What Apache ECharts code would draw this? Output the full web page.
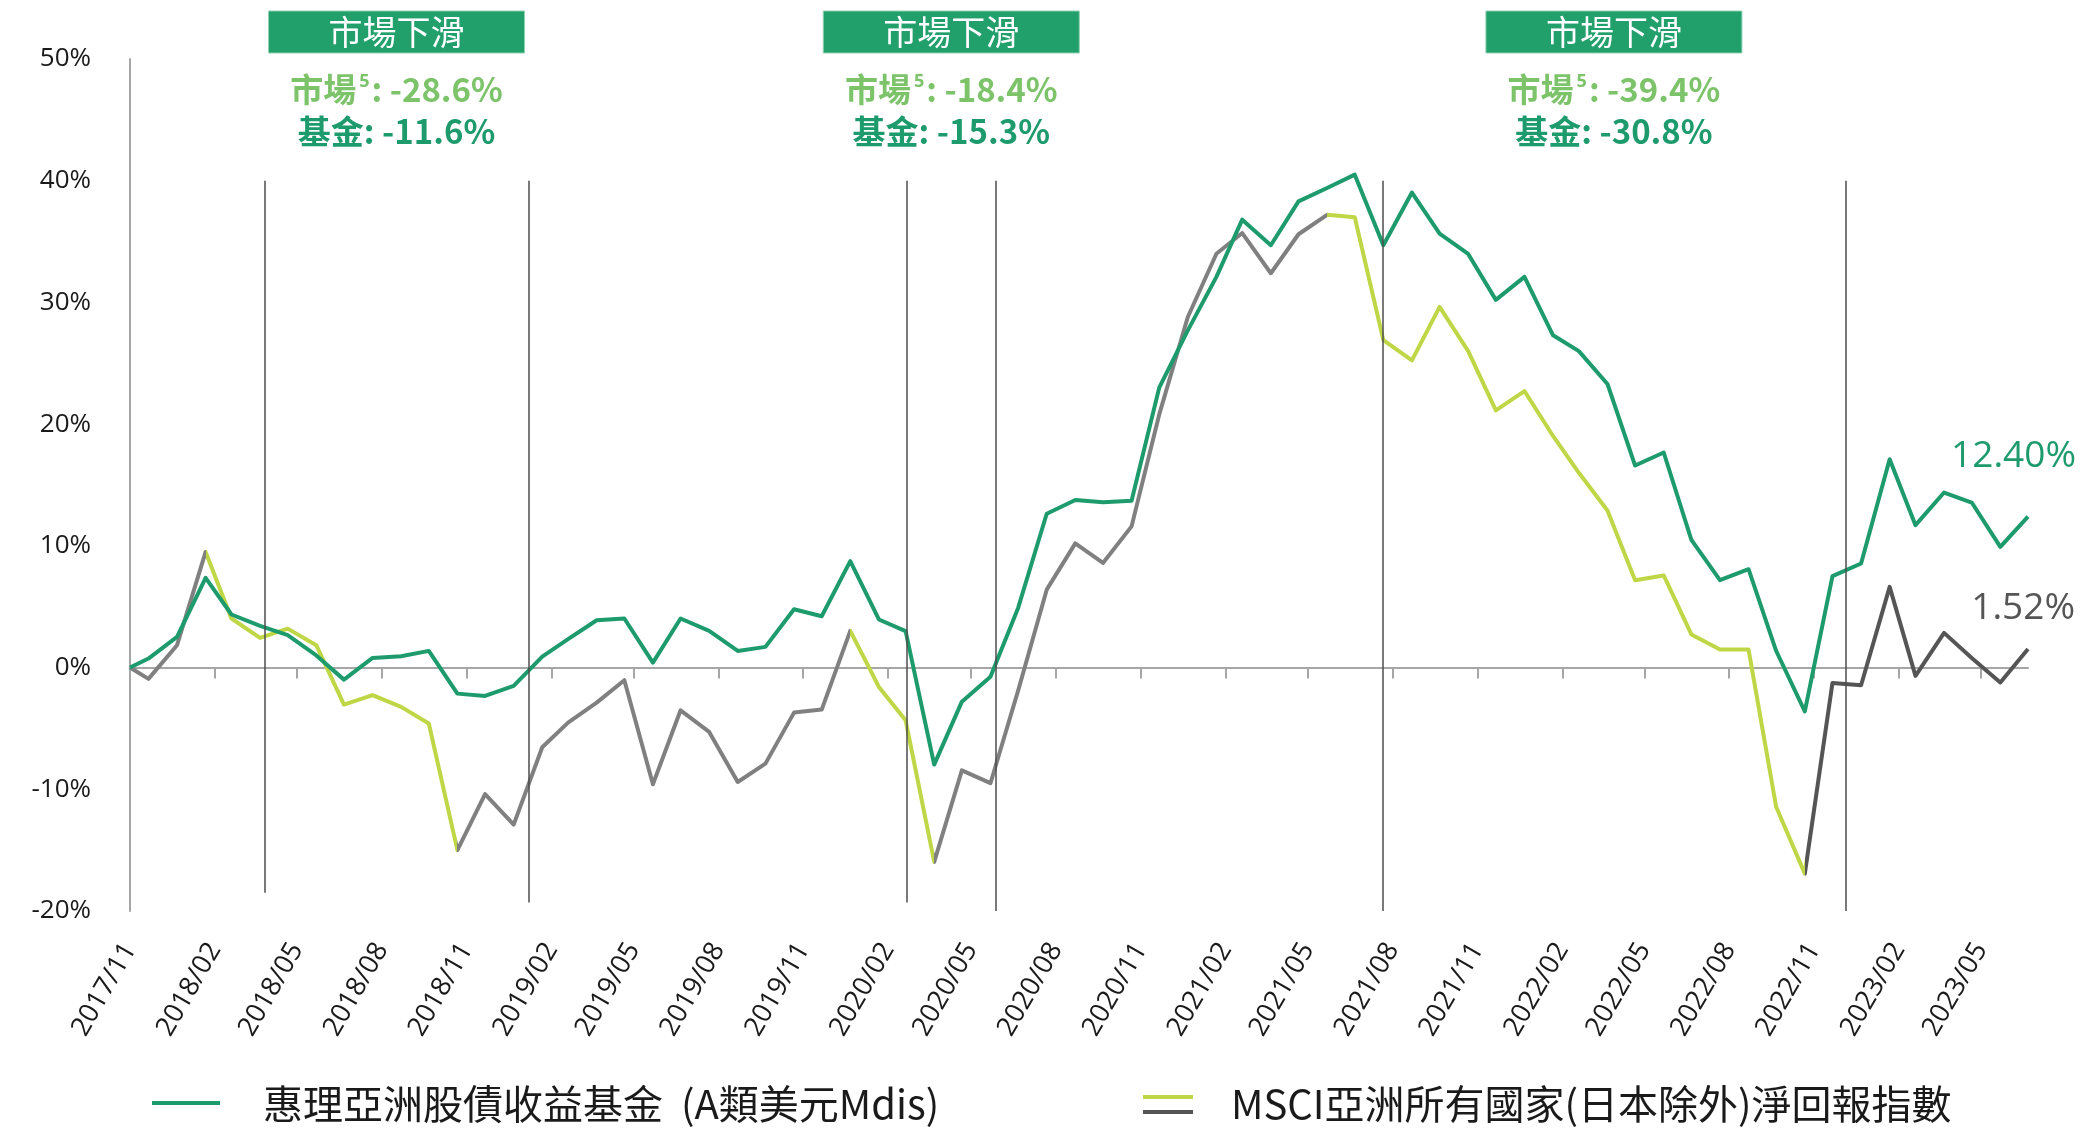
<!DOCTYPE html>
<html>
<head>
<meta charset="utf-8">
<script src="https://cdn.jsdelivr.net/npm/echarts@6/dist/echarts.min.js"></script>
<style>
html,body{margin:0;padding:0;background:#ffffff;}
#chart{width:2091px;height:1130px;}
</style>
</head>
<body>
<div id="chart"></div>
<script>
// ---------------- DATA ----------------
const dates = [
  '2017-11-10','2017-11-30','2017-12-31',
  '2018-01-31','2018-02-28','2018-03-31','2018-04-30','2018-05-31','2018-06-30',
  '2018-07-31','2018-08-31','2018-09-30','2018-10-31','2018-11-30','2018-12-31',
  '2019-01-31','2019-02-28','2019-03-31','2019-04-30','2019-05-31','2019-06-30',
  '2019-07-31','2019-08-31','2019-09-30','2019-10-31','2019-11-30','2019-12-31',
  '2020-01-31','2020-02-29','2020-03-31','2020-04-30','2020-05-31','2020-06-30',
  '2020-07-31','2020-08-31','2020-09-30','2020-10-31','2020-11-30','2020-12-31',
  '2021-01-31','2021-02-28','2021-03-31','2021-04-30','2021-05-31','2021-06-30',
  '2021-07-31','2021-08-31','2021-09-30','2021-10-31','2021-11-30','2021-12-31',
  '2022-01-31','2022-02-28','2022-03-31','2022-04-30','2022-05-31','2022-06-30',
  '2022-07-31','2022-08-31','2022-09-30','2022-10-31','2022-11-30','2022-12-31',
  '2023-01-31','2023-02-28','2023-03-31','2023-04-30','2023-05-31','2023-06-30'
];

const fundValues = [
  0, 0.74, 2.52,
  7.37, 4.36, 3.42, 2.66, 1.0, -0.99,
  0.79, 0.93, 1.37, -2.14, -2.33, -1.51,
  0.9, 2.33, 3.89, 4.03, 0.41, 4.03,
  3.01, 1.37, 1.70, 4.79, 4.22, 8.74,
  3.95, 2.99, -7.97, -2.8, -0.75, 4.9,
  12.64, 13.77, 13.58, 13.7, 23.0, 27.7,
  32.1, 36.8, 34.7, 38.3, 39.4, 40.5,
  34.7, 39.03, 35.65, 33.98, 30.21, 32.1,
  27.3, 26.0, 23.3, 16.6, 17.67, 10.49,
  7.18, 8.08, 1.36, -3.6, 7.51, 8.55,
  17.12, 11.7, 14.38, 13.56, 9.92, 12.40
];

const msciValues = [
  0, -0.93, 1.84,
  9.5, 4.03, 2.44, 3.2, 1.84, -3.04,
  -2.27, -3.23, -4.6, -15.0, -10.4, -12.9,
  -6.55, -4.52, -2.88, -1.04, -9.59, -3.51,
  -5.29, -9.4, -7.89, -3.7, -3.45, 3.01,
  -1.59, -4.33, -15.97, -8.45, -9.5, -1.9,
  6.4, 10.2, 8.6, 11.6, 20.8, 28.8,
  34.0, 35.7, 32.4, 35.6, 37.2, 37.0,
  26.9, 25.24, 29.63, 26.0, 21.13, 22.72,
  19.03, 16.0, 12.9, 7.18, 7.57, 2.72,
  1.48, 1.48, -11.46, -16.93, -1.26, -1.45,
  6.63, -0.68, 2.85, 0.79, -1.23, 1.52
];

const tickLabels = [
  '2017/11','2018/02','2018/05','2018/08','2018/11','2019/02','2019/05','2019/08',
  '2019/11','2020/02','2020/05','2020/08','2020/11','2021/02','2021/05','2021/08',
  '2021/11','2022/02','2022/05','2022/08','2022/11','2023/02','2023/05'
];

// market peak-to-trough periods (indices into dates)
const peakToTrough = [[3, 12], [26, 29], [43, 60]];
// vertical marker lines (pairs bound each downturn)
const downturnMarkers = ['2018-04-05','2019-01-16','2020-03-01','2020-06-06','2021-07-30','2022-12-14'];
const markerTop = 40;
const markerBottoms = [-18.5, -19.3, -19.3, -20, -20, -20];
const marketDrops = [-28.6, -18.4, -39.4];
const fundDrops = [-11.6, -15.3, -30.8];

const seriesNames = ['惠理亞洲股債收益基金 (A類美元Mdis)', 'MSCI亞洲所有國家(日本除外)淨回報指數'];
const boxTitle = '市場下滑';

// ---------------- STYLE ----------------
const GREEN = '#1e9b6c';
const BOX = '#21a06c';
const LIGHTGREEN = '#7cc36a';
const YG = '#bfd646';
const GRAY = '#808080';
const DARK = '#555555';
const AXIS = '#a6a6a6';
const TEXT = '#1a1a1a';
const LATIN = "'Open Sans','Noto Sans CJK TC',sans-serif";
const CJK = "'Noto Sans CJK TC','Open Sans',sans-serif";

const DAY = 86400000;
const t0 = Date.parse(dates[0]);
const startDay = new Date(t0).getUTCDate();
const toDay = s => (Date.parse(s) - t0) / DAY;
const xs = dates.map(toDay);
const xMax = xs[xs.length - 1];
const tickDays = tickLabels.map(l => {
  const [y, m] = l.split('/').map(Number);
  return (Date.UTC(y, m - 1, startDay) - t0) / DAY;
});

// visual pieces for MSCI line colouring
const pieces = [];
let prev = 0;
peakToTrough.forEach(([a, b]) => {
  pieces.push({ gte: xs[prev], lt: xs[a], color: GRAY });
  pieces.push({ gte: xs[a], lt: xs[b], color: YG });
  prev = b;
});
pieces.push({ gte: xs[prev], lte: xMax + 1, color: DARK });

const option = {
  animation: false,
  backgroundColor: '#ffffff',
  grid: { left: 130, right: 63, top: 59, bottom: 219, containLabel: false },
  xAxis: [
    {
      type: 'value', min: 0, max: xMax, position: 'bottom',
      axisLine: { show: false, onZero: false },
      axisTick: { show: false },
      splitLine: { show: false },
      axisLabel: {
        customValues: tickDays,
        formatter: v => {
          const i = tickDays.findIndex(d => Math.abs(d - v) < 0.5);
          return i >= 0 ? tickLabels[i] : '';
        },
        rotate: 60, margin: 34, fontSize: 27, fontFamily: LATIN, color: TEXT
      }
    },
    {
      type: 'value', min: 0, max: xMax, position: 'bottom',
      axisLine: { show: true, onZero: true, lineStyle: { color: AXIS, width: 2 } },
      axisTick: { show: true, customValues: tickDays, length: 11, lineStyle: { color: AXIS, width: 2 } },
      axisLabel: { show: false },
      splitLine: { show: false }
    }
  ],
  yAxis: {
    type: 'value', min: -20, max: 50, interval: 10,
    axisLine: { show: true, onZero: false, lineStyle: { color: AXIS, width: 2 } },
    axisTick: { show: false },
    splitLine: { show: false },
    axisLabel: { formatter: '{value}%', fontSize: 26, fontFamily: LATIN, color: TEXT, margin: 39 }
  },
  visualMap: [{
    type: 'piecewise', show: false, dimension: 0, seriesIndex: 1,
    pieces: pieces, outOfRange: { color: GRAY }
  }],
  series: [
    {
      name: seriesNames[0], type: 'line', xAxisIndex: 0, yAxisIndex: 0,
      data: xs.map((x, i) => [x, fundValues[i]]),
      symbol: 'none', showSymbol: false, z: 4,
      lineStyle: { color: GREEN, width: 4, join: 'round' },
      itemStyle: { color: GREEN },
      markLine: {
        silent: true, symbol: ['none', 'none'], label: { show: false },
        lineStyle: { color: '#4d4d4d', width: 1.5, type: 'solid' },
        emphasis: { disabled: true },
        data: downturnMarkers.map((d, i) => [
          { coord: [toDay(d), markerTop] },
          { coord: [toDay(d), markerBottoms[i]] }
        ])
      }
    },
    {
      name: seriesNames[1], type: 'line', xAxisIndex: 0, yAxisIndex: 0,
      data: xs.map((x, i) => [x, msciValues[i]]),
      symbol: 'none', showSymbol: false, z: 3,
      lineStyle: { width: 4, join: 'round' }
    }
  ]
};

const chart = echarts.init(document.getElementById('chart'), null, { renderer: 'canvas' });
chart.setOption(option);

// ---------------- ANNOTATIONS ----------------
const px = (x, y) => chart.convertToPixel({ seriesIndex: 0 }, [x, y]);
const graphics = [];
const fmt = v => (v < 0 ? '-' : '') + Math.abs(v).toFixed(1) + '%';

for (let k = 0; k < marketDrops.length; k++) {
  const a = px(toDay(downturnMarkers[2 * k]), 0)[0];
  const b = px(toDay(downturnMarkers[2 * k + 1]), 0)[0];
  const cx = (a + b) / 2;
  graphics.push({
    type: 'rect', shape: { x: cx - 128, y: 11, width: 256, height: 42 },
    style: { fill: BOX, stroke: '#8fd1b0', lineWidth: 1 }, silent: true
  });
  graphics.push({
    type: 'text', x: cx, y: 32, silent: true,
    style: { text: boxTitle, fill: '#ffffff', font: '34px ' + CJK, align: 'center', verticalAlign: 'middle' }
  });
  graphics.push({
    type: 'text', x: cx, y: 89, silent: true,
    style: {
      text: '{a|市場}{s|5}{a|: ' + fmt(marketDrops[k]) + '}',
      align: 'center', verticalAlign: 'middle',
      rich: {
        a: { fill: LIGHTGREEN, fontSize: 33, fontWeight: 'bold', fontFamily: CJK },
        s: { fill: LIGHTGREEN, fontSize: 18, fontWeight: 'bold', fontFamily: LATIN, verticalAlign: 'top', padding: [0, 2, 0, 3] }
      }
    }
  });
  graphics.push({
    type: 'text', x: cx, y: 131, silent: true,
    style: {
      text: '基金: ' + fmt(fundDrops[k]),
      fill: GREEN, fontSize: 33, fontWeight: 'bold', fontFamily: CJK,
      align: 'center', verticalAlign: 'middle'
    }
  });
}

// end labels
const nLast = xs.length - 1;
const pf = px(xs[nLast], fundValues[nLast]);
const pm = px(xs[nLast], msciValues[nLast]);
graphics.push({
  type: 'text', x: pf[0] + 48, y: pf[1] - 60, silent: true,
  style: { text: fundValues[nLast].toFixed(2) + '%', fill: GREEN, font: '37px ' + LATIN, align: 'right', verticalAlign: 'middle' }
});
graphics.push({
  type: 'text', x: pm[0] + 47, y: pm[1] - 41, silent: true,
  style: { text: msciValues[nLast].toFixed(2) + '%', fill: DARK, font: '37px ' + LATIN, align: 'right', verticalAlign: 'middle' }
});

// legend
graphics.push({ type: 'line', shape: { x1: 152, y1: 1103, x2: 220, y2: 1103 }, style: { stroke: GREEN, lineWidth: 4 }, silent: true });
graphics.push({
  type: 'text', x: 263, y: 1104, silent: true,
  style: { text: seriesNames[0].replace(' (', '  ('), fill: TEXT, font: '40px ' + CJK, align: 'left', verticalAlign: 'middle' }
});
graphics.push({ type: 'line', shape: { x1: 1143, y1: 1097, x2: 1193, y2: 1097 }, style: { stroke: YG, lineWidth: 4 }, silent: true });
graphics.push({ type: 'line', shape: { x1: 1143, y1: 1112, x2: 1193, y2: 1112 }, style: { stroke: DARK, lineWidth: 4 }, silent: true });
graphics.push({
  type: 'text', x: 1231, y: 1104, silent: true,
  style: { text: seriesNames[1], fill: TEXT, font: '40px ' + CJK, align: 'left', verticalAlign: 'middle' }
});

chart.setOption({ graphic: graphics });
</script>
</body>
</html>
